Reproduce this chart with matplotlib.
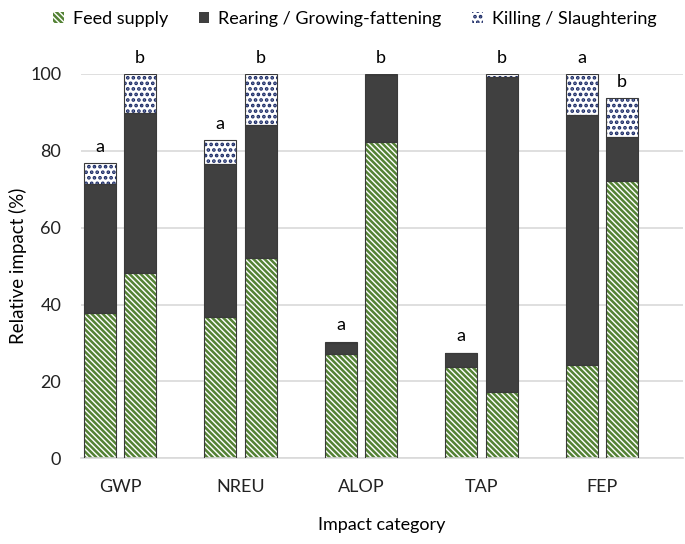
import numpy as np
import matplotlib
matplotlib.use("Agg")
import matplotlib.pyplot as plt
from matplotlib.patches import Patch

plt.rcParams['font.family'] = ['Lato', 'DejaVu Sans']
plt.rcParams['hatch.linewidth'] = 1.8

categories = ['GWP', 'NREU', 'ALOP', 'TAP', 'FEP']
# first bar of each pair ("a")
feed_a = [37.7, 36.8, 27.2, 23.8, 24.3]
rear_a = [33.7, 39.8, 2.8, 3.5, 65.0]
kill_a = [5.4, 6.1, 0.3, 0.2, 10.7]
# second bar of each pair ("b")
feed_b = [48.3, 52.0, 82.4, 17.3, 72.2]
rear_b = [41.5, 34.6, 17.3, 81.8, 11.5]
kill_b = [10.2, 13.4, 0.3, 0.9, 10.0]
letters_a = ['a', 'a', 'a', 'a', 'a']
letters_b = ['b', 'b', 'b', 'b', 'b']
series_names = ['Feed supply', 'Rearing / Growing-fattening', 'Killing / Slaughtering']

green = '#548235'
dark = '#404040'
navy = '#1a2a66'
outline = '#3a3a3a'
feed_hatch = '\\' * 6
kill_hatch = '...'

fig = plt.figure(figsize=(6.85, 5.44), dpi=100)
ax = fig.add_axes([0.1178, 0.1575, 0.8788, 0.7065])

x = np.arange(len(categories))
w = 0.266
off = 0.168


def stack(xpos, feed, rear, kill):
    feed = np.array(feed)
    rear = np.array(rear)
    kill = np.array(kill)
    # hatched feed supply
    ax.bar(xpos, feed, w, color='white', edgecolor=green, hatch=feed_hatch, linewidth=0, zorder=2)
    ax.bar(xpos, rear, w, bottom=feed, color=dark, linewidth=0, zorder=2)
    ax.bar(xpos, kill, w, bottom=feed + rear, color='white', edgecolor=navy, hatch=kill_hatch, linewidth=0, zorder=2)
    for b, h in [(0, feed), (feed, rear), (feed + rear, kill)]:
        ax.bar(xpos, h, w, bottom=b, fill=False, edgecolor=outline, linewidth=0.8, zorder=3)
    return feed + rear + kill


tot_a = stack(x - off, feed_a, rear_a, kill_a)
tot_b = stack(x + off, feed_b, rear_b, kill_b)

for i in range(len(categories)):
    ax.text(x[i] - off, tot_a[i] + 2.2, letters_a[i], ha='center', va='bottom', fontsize=13)
    ax.text(x[i] + off, tot_b[i] + 2.2, letters_b[i], ha='center', va='bottom', fontsize=13)

ax.set_xlim(-0.326, 4.67)
ax.set_ylim(0, 100)
ax.set_yticks([0, 20, 40, 60, 80, 100])
ax.set_xticks(x)
ax.set_xticklabels(categories)
ax.yaxis.grid(True, color='#d9d9d9', linewidth=1.2, zorder=0)
ax.set_axisbelow(True)
for s in ['top', 'right', 'left']:
    ax.spines[s].set_visible(False)
ax.spines['bottom'].set_color('#d9d9d9')
ax.spines['bottom'].set_linewidth(1.2)
ax.tick_params(axis='both', length=0, labelsize=13, colors='#222222')
ax.tick_params(axis='y', pad=14)
ax.tick_params(axis='x', pad=15)
ax.set_ylabel('Relative impact (%)', fontsize=13.5)
ax.yaxis.set_label_coords(-0.09, 0.5)
ax.set_xlabel('Impact category', fontsize=13, labelpad=16)

handles = [
    Patch(facecolor='white', edgecolor=green, hatch=feed_hatch, linewidth=0),
    Patch(facecolor=dark, edgecolor=dark, linewidth=0),
    Patch(facecolor='white', edgecolor=navy, hatch=kill_hatch, linewidth=0),
]
fig.legend(handles, series_names, loc='upper center', bbox_to_anchor=(0.518, 1.01), ncol=3,
           frameon=False, fontsize=13, handlelength=0.6, handleheight=0.6,
           handletextpad=0.5, columnspacing=1.7)

fig.savefig('out.png', dpi=100)
